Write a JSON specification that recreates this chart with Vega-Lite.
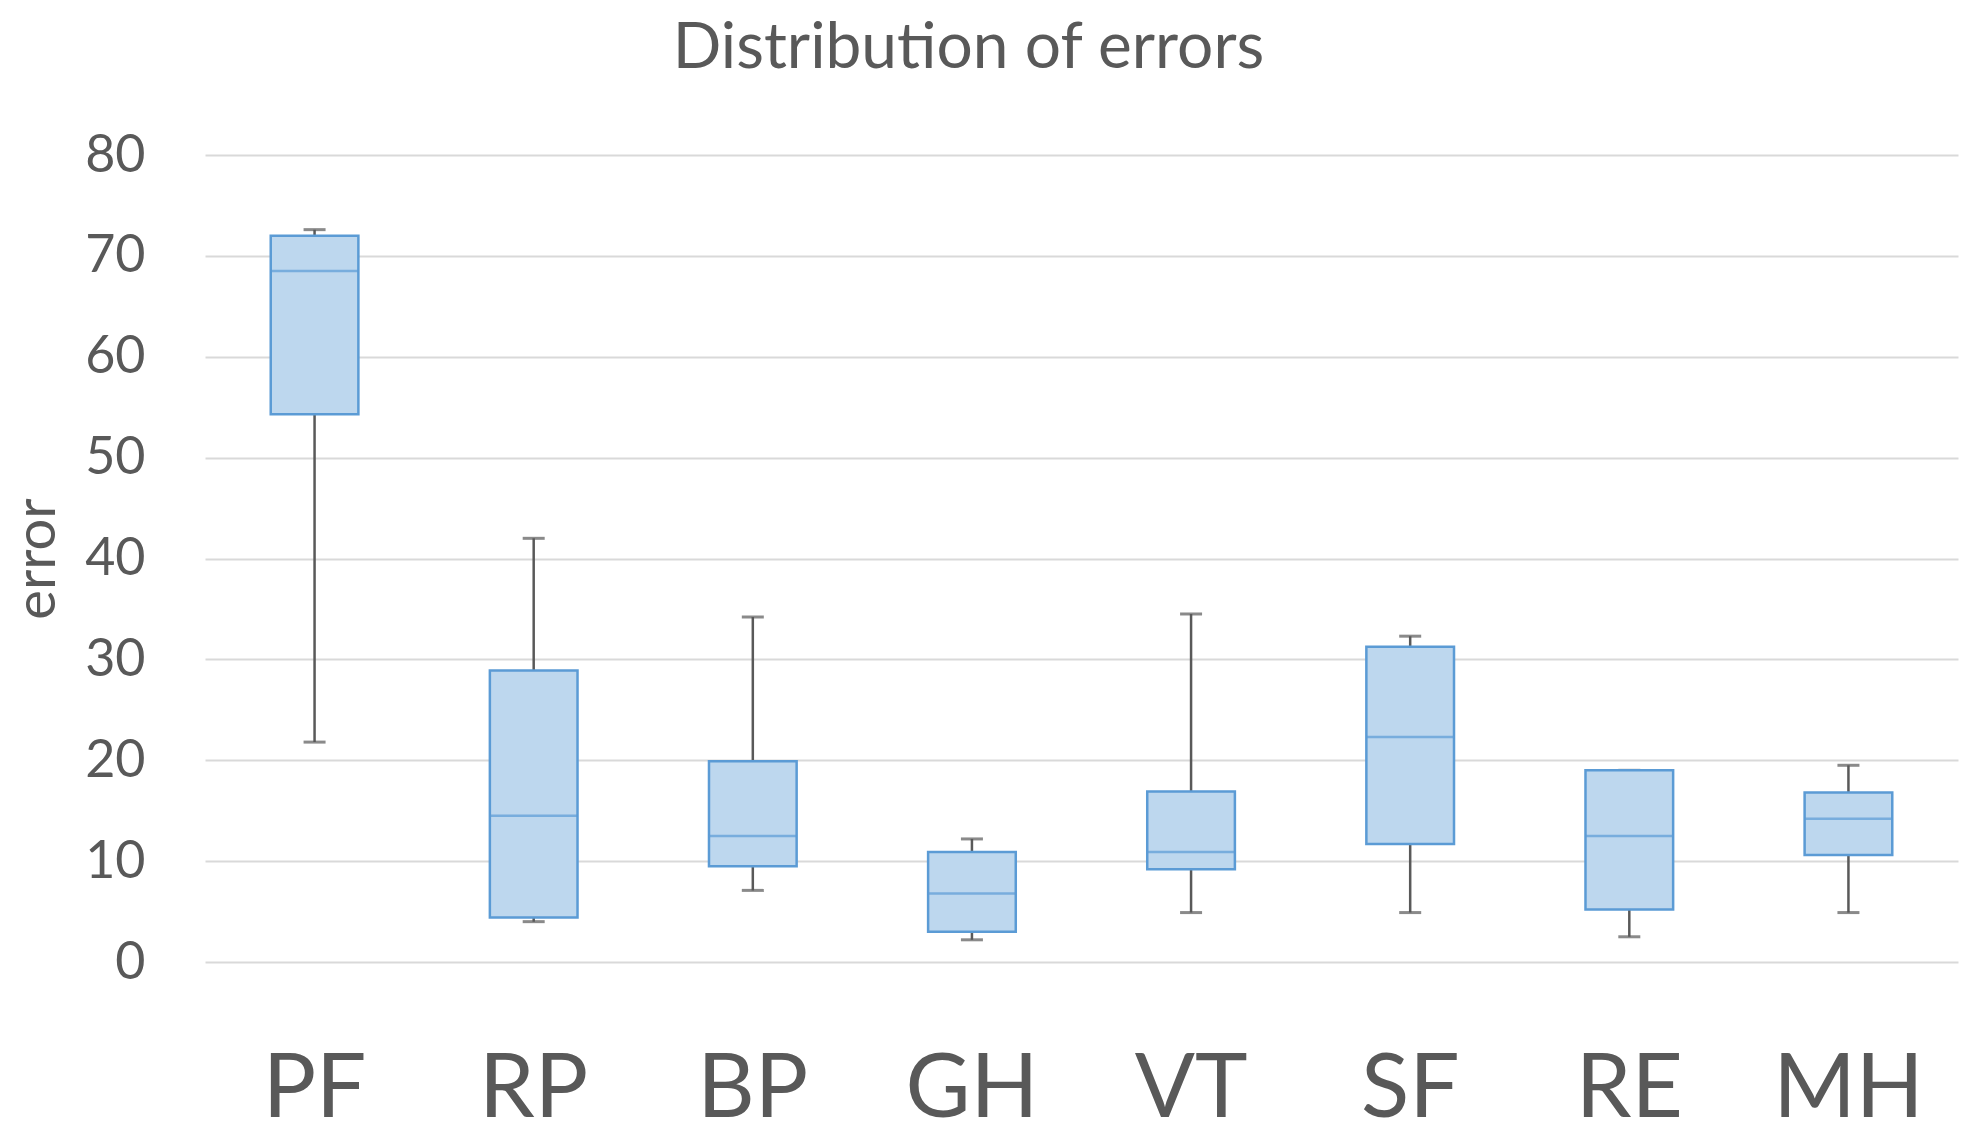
{
  "$schema": "https://vega.github.io/schema/vega-lite/v6.json",
  "autosize": {"type": "none"},
  "width": 1753,
  "height": 807,
  "padding": {"left": 205, "top": 155, "right": 19, "bottom": 174},
  "background": "white",
  "title": {
    "text": "Distribution of errors",
    "font": "Lato",
    "fontSize": 64,
    "fontWeight": "normal",
    "color": "#595959",
    "anchor": "middle",
    "frame": "group",
    "dx": -113,
    "offset": 48
  },
  "config": {
    "view": {"stroke": null},
    "axis": {"labelFont": "Lato", "titleFont": "Lato", "labelColor": "#595959", "titleColor": "#595959"}
  },
  "data": {
    "values": [
      {"method": "PF", "lower": 21.8, "q1": 54.3, "median": 68.5, "q3": 72.0, "upper": 72.6},
      {"method": "RP", "lower": 4.0, "q1": 4.4, "median": 14.5, "q3": 28.9, "upper": 42.0},
      {"method": "BP", "lower": 7.1, "q1": 9.5, "median": 12.5, "q3": 19.9, "upper": 34.2},
      {"method": "GH", "lower": 2.2, "q1": 3.0, "median": 6.8, "q3": 10.9, "upper": 12.2},
      {"method": "VT", "lower": 4.9, "q1": 9.2, "median": 10.9, "q3": 16.9, "upper": 34.5},
      {"method": "SF", "lower": 4.9, "q1": 11.7, "median": 22.3, "q3": 31.25, "upper": 32.3},
      {"method": "RE", "lower": 2.5, "q1": 5.2, "median": 12.5, "q3": 19.0, "upper": 19.0},
      {"method": "MH", "lower": 4.9, "q1": 10.6, "median": 14.2, "q3": 16.8, "upper": 19.5}
    ]
  },
  "encoding": {
    "x": {
      "field": "method",
      "type": "nominal",
      "sort": null,
      "scale": {"paddingInner": 0, "paddingOuter": 0},
      "axis": {
        "title": null,
        "labelAngle": 0,
        "labelFontSize": 89,
        "labelPadding": 84,
        "ticks": false,
        "domain": false,
        "grid": false
      }
    }
  },
  "layer": [
    {
      "mark": {"type": "rule", "color": "#595959", "strokeWidth": 2.5},
      "encoding": {
        "y": {
          "field": "lower",
          "type": "quantitative",
          "scale": {"domain": [0, 80]},
          "axis": {
            "title": "error",
            "titleFontSize": 56,
            "titleFontWeight": "normal",
            "titlePadding": 18,
            "labelFontSize": 52,
            "labelPadding": 60,
            "labelOverlap": false,
            "values": [0, 10, 20, 30, 40, 50, 60, 70, 80],
            "ticks": false,
            "domain": false,
            "gridColor": "#D9D9D9",
            "gridWidth": 2
          }
        },
        "y2": {"field": "upper"}
      }
    },
    {
      "mark": {"type": "tick", "color": "#595959", "thickness": 3, "size": 22},
      "encoding": {"y": {"field": "lower", "type": "quantitative"}}
    },
    {
      "mark": {"type": "tick", "color": "#595959", "thickness": 3, "size": 22},
      "encoding": {"y": {"field": "upper", "type": "quantitative"}}
    },
    {
      "mark": {"type": "bar", "width": {"band": 0.4}, "fill": "#BDD7EE", "stroke": "#5B9BD5", "strokeWidth": 2.5},
      "encoding": {
        "y": {"field": "q1", "type": "quantitative"},
        "y2": {"field": "q3"}
      }
    },
    {
      "mark": {"type": "tick", "color": "#5B9BD5", "thickness": 2.5, "size": 88},
      "encoding": {"y": {"field": "median", "type": "quantitative"}}
    }
  ]
}
